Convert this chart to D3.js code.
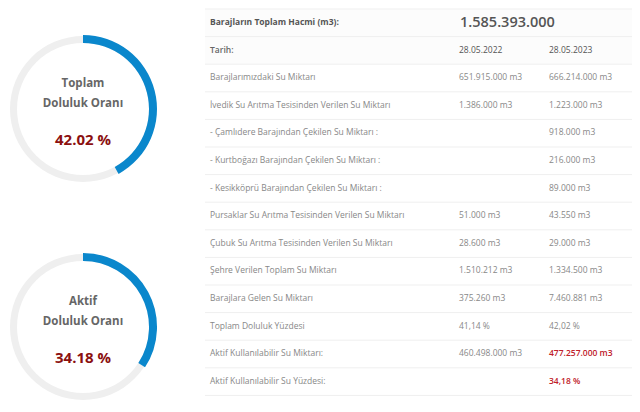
<!DOCTYPE html><html><head><meta charset="utf-8">
<script src="https://cdn.jsdelivr.net/npm/d3@7"></script>
<style>body{margin:0;background:#fff}</style></head><body><svg id="c" width="640" height="412"></svg>
<script>
const gaugeTitles=[["Toplam","Doluluk Oranı"],["Aktif","Doluluk Oranı"]];
const gaugeValues=[42.02,34.18];
const rowLabels=["Barajlarımızdaki Su Miktarı","İvedik Su Arıtma Tesisinden Verilen Su Miktarı","- Çamlıdere Barajından Çekilen Su Miktarı :","- Kurtboğazı Barajından Çekilen Su Miktarı :","- Kesikköprü Barajından Çekilen Su Miktarı :","Pursaklar Su Arıtma Tesisinden Verilen Su Miktarı","Çubuk Su Arıtma Tesisinden Verilen Su Miktarı","Şehre Verilen Toplam Su Miktarı","Barajlara Gelen Su Miktarı","Toplam Doluluk Yüzdesi","Aktif Kullanılabilir Su Miktarı:","Aktif Kullanılabilir Su Yüzdesi:"];
const col2022=["651.915.000 m3","1.386.000 m3","","","","51.000 m3","28.600 m3","1.510.212 m3","375.260 m3","41,14 %","460.498.000 m3",""];
const col2023=["666.214.000 m3","1.223.000 m3","918.000 m3","216.000 m3","89.000 m3","43.550 m3","29.000 m3","1.334.500 m3","7.460.881 m3","42,02 %","477.257.000 m3","34,18 %"];
const dates=["28.05.2022","28.05.2023"];
const totalLabel="Barajların Toplam Hacmi (m3):", totalValue="1.585.393.000";
const svg=d3.select("#c"),F="'Open Sans',sans-serif";
const centers=[[83,109],[83,327]];
const ang=d3.scaleLinear().domain([0,100]).range([0,2*Math.PI]);
gaugeValues.forEach((v,i)=>{
 const g=svg.append("g").attr("transform",`translate(${centers[i]})`);
 g.append("path").attr("d",d3.arc()({innerRadius:66,outerRadius:73,startAngle:0,endAngle:2*Math.PI})).attr("fill","#efefef");
 g.append("path").attr("d",d3.arc()({innerRadius:66,outerRadius:74,startAngle:0,endAngle:ang(v)})).attr("fill","#0a87cc");
 g.selectAll("text.t").data(gaugeTitles[i]).join("text").attr("y",(d,j)=>-22+j*20).attr("text-anchor","middle")
  .attr("font-family",F).attr("font-size",11.5).attr("font-weight",700).attr("fill","#666").text(d=>d);
 g.append("text").attr("y",36).attr("text-anchor","middle").attr("font-family",F).attr("font-size",15).attr("font-weight",700).attr("fill","#8b1010").text(v.toFixed(2)+" %");
});
const rowH=27.6,y0=9;
const y=i=>y0+i*rowH;
const tx=205,tw=427;
svg.append("rect").attr("x",tx).attr("y",y(0)).attr("width",tw).attr("height",rowH*2).attr("fill","#fcfcfc");
for(let i=0;i<=14;i++) svg.append("line").attr("x1",tx).attr("x2",tx+tw).attr("y1",y(i)).attr("y2",y(i)).attr("stroke","#efefef");
function t(x,yy,s,o={}){svg.append("text").attr("x",x).attr("y",yy).attr("font-family",F).attr("font-size",o.fs||8.5).attr("font-weight",o.fw||400).attr("fill",o.c||"#888").attr("dominant-baseline","middle").text(s);}
t(210,y(0)+rowH/2,totalLabel,{fw:700,c:"#555",fs:8.5});
t(460,y(0)+rowH/2,totalValue,{fs:14.5,fw:600,c:"#555"});
t(210,y(1)+rowH/2,"Tarih:",{fw:600,c:"#666"});
t(459,y(1)+rowH/2,dates[0],{c:"#555"});t(549,y(1)+rowH/2,dates[1],{c:"#555"});
rowLabels.forEach((l,i)=>{
 const yy=y(i+2)+rowH/2;
 t(210,yy,l,{});
 t(459,yy,col2022[i]);
 const red=i>=10;
 t(549,yy,col2023[i],red?{c:"#c0202a",fw:600}:{});
});
</script></body></html>
